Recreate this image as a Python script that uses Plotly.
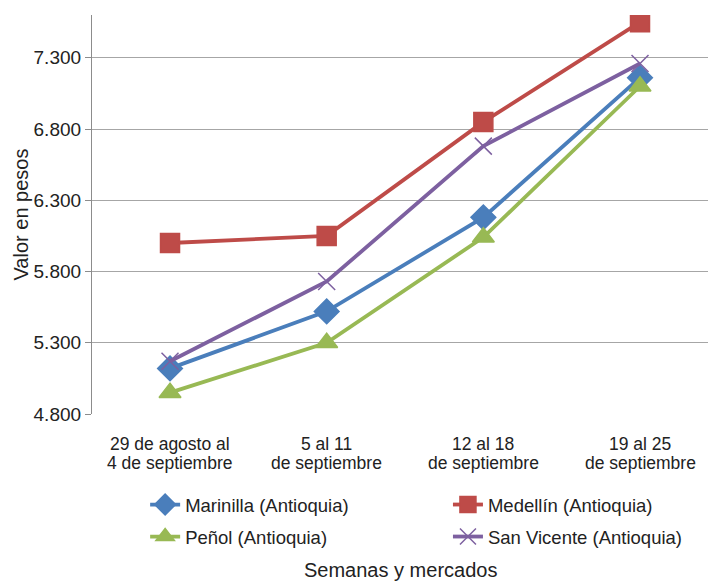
import plotly.graph_objects as go

categories = ["29 de agosto al<br>4 de septiembre", "5 al 11<br>de septiembre",
              "12 al 18<br>de septiembre", "19 al 25<br>de septiembre"]
marinilla = [5120, 5520, 6180, 7160]
medellin = [6000, 6050, 6850, 7550]
penol = [4950, 5300, 6040, 7100]
san_vicente = [5170, 5730, 6680, 7260]

FONT = "Liberation Sans, Arial, sans-serif"

series = [
    ("Marinilla (Antioquia)", marinilla, "#4A7EBB", "diamond", 19, "legend", 0.205, 0.1323),
    ("Medellín (Antioquia)", medellin, "#BE4B48", "square", 19, "legend2", 0.6327, 0.1323),
    ("Peñol (Antioquia)", penol, "#98B954", "triangle-up", 19, "legend3", 0.205, 0.0773),
    ("San Vicente (Antioquia)", san_vicente, "#7D60A0", "x-thin", 17, "legend4", 0.6327, 0.0773),
]

xs = list(range(len(categories)))
fig = go.Figure()
legend_layouts = {}
for name, vals, color, sym, size, lg, lx, ly in series:
    fig.add_trace(go.Scatter(
        x=xs, y=vals, name=name, mode="lines+markers", legend=lg,
        line=dict(color=color, width=3.8),
        marker=dict(symbol=sym, size=size, color=color,
                    line=dict(color=color, width=1.5)),
    ))
    legend_layouts[lg] = dict(
        xref="container", yref="container", x=lx, y=ly,
        xanchor="left", yanchor="middle", orientation="h",
        font=dict(family=FONT, size=18.5, color="#222"),
        bgcolor="rgba(0,0,0,0)", borderwidth=0,
    )

annotations = []
for i, lab in enumerate(categories):
    l1, l2 = lab.split("<br>")
    for txt, py in ((l1, 444), (l2, 463)):
        annotations.append(dict(
            x=i, xref="x", y=(414 - py) / 399, yref="paper",
            text=txt, showarrow=False, xanchor="center", yanchor="middle",
            font=dict(family=FONT, size=17.5, color="#222"),
        ))
annotations.append(dict(
    x=0.5, xref="paper", y=(414 - 570) / 399, yref="paper",
    text="Semanas y mercados", showarrow=False, xanchor="center", yanchor="middle",
    font=dict(family=FONT, size=20, color="#222"),
))
annotations.append(dict(
    x=(20 - 92) / 616, xref="paper", y=0.5, yref="paper", textangle=-90,
    text="Valor en pesos", showarrow=False, xanchor="center", yanchor="middle",
    font=dict(family=FONT, size=20, color="#222"),
))

fig.update_layout(
    width=708, height=582,
    margin=dict(l=92, r=0, t=15, b=168),
    paper_bgcolor="white", plot_bgcolor="white",
    font=dict(family=FONT, size=17, color="#222"),
    separators=",.",
    showlegend=True,
    annotations=annotations,
    xaxis=dict(
        range=[-0.498, 3.434], showgrid=False, zeroline=False,
        showline=False, ticks="", showticklabels=False, automargin=False,
    ),
    yaxis=dict(
        range=[4800, 7600], dtick=500, tick0=4800, tickformat=",d",
        showgrid=True, gridcolor="#A6A6A6", gridwidth=1.2,
        showline=True, linecolor="#8C8C8C", linewidth=1.2,
        ticks="outside", ticklen=6, tickcolor="#8C8C8C",
        zeroline=False, tickfont=dict(family=FONT, size=19, color="#222"),
        automargin=False,
    ),
    **legend_layouts,
)
fig.write_html("out.html", config={"displayModeBar": False},
               post_script="document.body.style.margin='0';")
